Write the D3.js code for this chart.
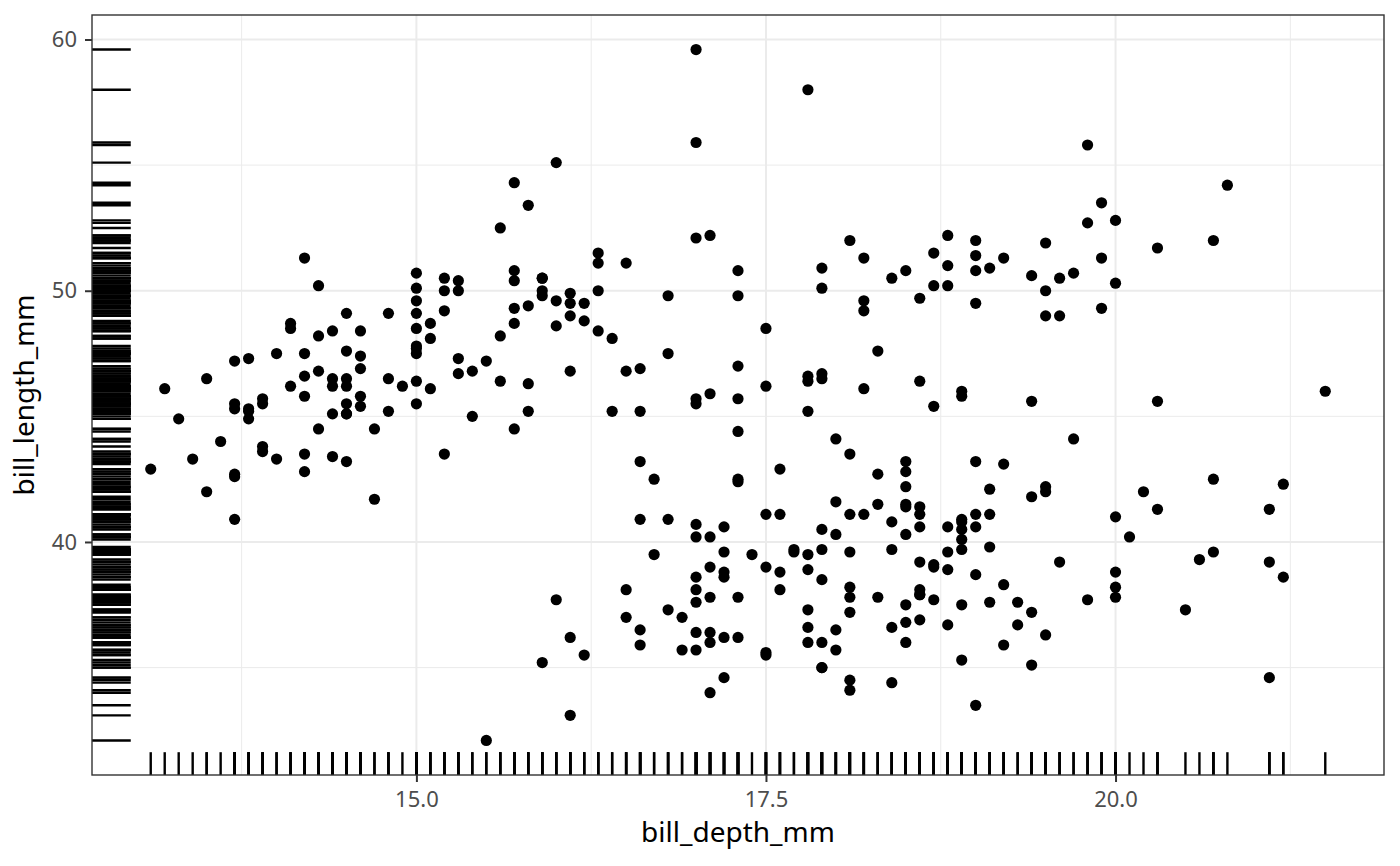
<!DOCTYPE html>
<html><head><meta charset="utf-8">
<script src="https://cdn.jsdelivr.net/npm/d3@7"></script>
<style>body{margin:0;background:#fff}svg{display:block;font-family:"Noto Sans",sans-serif}</style>
</head><body>
<svg id="c" width="1400" height="866"></svg>
<script>
// Palmer penguins: bill_depth_mm (x) and bill_length_mm (y)
const adelieDepth = [18.7,17.4,18.0,19.3,20.6,17.8,19.6,18.1,20.2,17.1,17.3,17.6,21.2,21.1,17.8,19.0,20.7,18.4,21.5,18.3,18.7,19.2,18.1,17.2,18.9,18.6,17.9,18.6,18.9,16.7,18.1,17.8,18.9,17.0,21.1,20.0,18.5,19.3,19.1,18.0,18.4,18.5,19.7,16.9,18.8,19.0,18.9,17.9,21.2,17.7,18.9,17.9,19.5,18.1,18.6,17.5,18.8,16.6,19.1,16.9,21.1,17.0,18.2,17.1,18.0,16.2,19.1,16.6,19.4,19.0,18.4,17.2,18.9,17.5,18.5,16.8,19.4,16.1,19.1,17.2,17.6,18.8,19.4,17.8,20.3,19.5,18.6,19.2,18.8,18.0,18.1,17.1,18.1,17.3,18.9,18.6,18.5,16.1,18.5,17.9,20.0,16.0,20.0,18.6,18.9,17.2,20.0,17.0,19.0,16.5,20.3,17.7,19.5,20.7,18.3,17.0,20.5,17.0,18.6,17.2,19.8,17.0,18.5,15.9,19.0,17.6,18.3,17.1,18.0,17.9,19.2,18.5,18.5,17.6,17.5,17.5,20.1,16.5,17.9,17.1,17.2,15.5,17.0,16.8,18.7,18.6,18.4,17.8,18.1,17.1,18.5];
const adelieLength = [39.1,39.5,40.3,36.7,39.3,38.9,39.2,34.1,42.0,37.8,37.8,41.1,38.6,34.6,36.6,38.7,42.5,34.4,46.0,37.8,37.7,35.9,38.2,38.8,35.3,40.6,40.5,37.9,40.5,39.5,37.2,39.5,40.9,36.4,39.2,38.8,42.2,37.6,39.8,36.5,40.8,36.0,44.1,37.0,39.6,41.1,37.5,36.0,42.3,39.6,40.1,35.0,42.0,34.5,41.4,39.0,40.6,36.5,37.6,35.7,41.3,37.6,41.1,36.4,41.6,35.5,41.1,35.9,41.8,33.5,39.7,39.6,45.8,35.5,42.8,40.9,37.2,36.2,42.1,34.6,42.9,36.7,35.1,37.3,41.3,36.3,36.9,38.3,38.9,35.7,41.1,34.0,39.6,36.2,40.8,38.1,40.3,33.1,43.2,35.0,41.0,37.7,37.8,37.9,39.7,38.6,38.2,38.1,43.2,38.1,45.6,39.7,42.2,39.6,42.7,38.6,37.3,35.7,41.1,36.2,37.7,40.2,41.4,35.2,40.6,38.8,41.5,39.0,44.1,38.5,43.1,36.8,37.5,38.1,41.1,35.6,40.2,37.0,39.7,40.2,40.6,32.1,40.7,37.3,39.0,39.2,36.6,36.0,37.8,36.0,41.5];
const gentooDepth = [13.2,16.3,14.1,15.2,14.5,13.5,14.6,15.3,13.4,15.4,13.7,16.1,13.7,14.6,14.6,15.7,13.5,15.2,14.5,15.1,14.3,14.5,14.5,15.8,13.1,15.1,14.3,15.0,14.3,15.3,15.3,14.2,14.5,17.0,14.8,16.3,13.7,17.3,13.6,15.7,13.7,16.0,13.7,15.0,15.9,13.9,13.9,15.9,13.3,15.8,14.2,14.1,14.4,15.0,14.4,15.4,13.9,15.0,14.5,15.3,13.8,14.9,13.9,15.7,14.2,16.8,14.4,16.2,14.2,15.0,15.0,15.6,15.6,14.8,15.0,16.0,14.2,16.3,13.8,16.4,14.5,15.6,14.6,15.9,13.8,17.3,14.4,14.2,14.0,17.0,15.0,17.1,14.5,16.1,14.7,15.7,15.8,14.6,14.4,16.5,15.0,17.0,15.5,15.0,13.8,16.1,14.7,15.8,14.0,15.1,15.2,15.9,15.2,16.3,14.1,16.0,15.7,16.2,13.7,14.3,15.7,14.8,16.1];
const gentooLength = [46.1,50.0,48.7,50.0,47.6,46.5,45.4,46.7,43.3,46.8,40.9,49.0,45.5,48.4,45.8,49.3,42.0,49.2,46.2,48.7,50.2,45.1,46.5,46.3,42.9,46.1,44.5,47.8,48.2,50.0,47.3,42.8,45.1,59.6,49.1,48.4,42.6,44.4,44.0,48.7,42.7,49.6,45.3,49.6,50.5,43.6,45.5,50.5,44.9,45.2,46.6,48.5,45.1,50.1,46.5,45.0,43.8,45.5,43.2,50.4,45.3,46.2,45.7,54.3,45.8,49.8,46.2,49.5,43.5,50.7,47.7,46.4,48.2,46.5,46.4,48.6,47.5,51.1,45.2,45.2,49.1,52.5,47.4,50.0,44.9,50.8,43.4,51.3,47.5,52.1,47.5,52.2,45.5,49.5,44.5,50.8,49.4,46.9,48.4,51.1,48.5,55.9,47.2,49.1,47.3,46.8,41.7,53.4,43.3,48.1,50.5,49.8,43.5,51.5,46.2,55.1,44.5,48.8,47.2,46.8,50.4,45.2,49.9];
const chinstrapDepth = [17.9,19.5,19.2,18.7,19.8,17.8,18.2,18.2,18.9,19.9,17.8,20.3,17.3,18.1,17.1,19.6,20.0,17.8,18.6,18.2,17.3,17.5,16.6,19.4,17.9,19.0,18.4,19.0,17.8,20.0,16.6,20.8,16.7,18.8,18.6,16.8,18.3,20.7,16.6,19.9,19.5,17.5,19.1,17.0,17.9,18.5,17.9,19.6,18.7,17.3,16.4,19.0,17.3,19.7,17.3,18.8,16.6,19.9,18.8,19.4,19.5,16.5,17.0,19.8,18.1,18.2,19.0,18.7];
const chinstrapLength = [46.5,50.0,51.3,45.4,52.7,45.2,46.1,51.3,46.0,51.3,46.6,51.7,47.0,52.0,45.9,50.5,50.3,58.0,46.4,49.2,42.4,48.5,43.2,50.6,46.7,52.0,50.5,49.5,46.4,52.8,40.9,54.2,42.5,51.0,49.7,47.5,47.6,52.0,46.9,53.5,49.0,46.2,50.9,45.5,50.9,50.8,50.1,49.0,51.5,49.8,48.1,51.4,45.7,50.7,42.5,52.2,45.2,49.3,50.2,45.6,51.9,46.8,45.7,55.8,43.5,49.6,50.8,50.2];
const xTicks = [15.0, 17.5, 20.0];
const yTicks = [40, 50, 60];
const xTickLabels = ["15.0", "17.5", "20.0"];
const yTickLabels = ["40", "50", "60"];
const xMinor = [13.75, 16.25, 18.75, 21.25];
const yMinor = [35, 45, 55];

const depth = adelieDepth.concat(gentooDepth, chinstrapDepth);
const length = adelieLength.concat(gentooLength, chinstrapLength);
const pts = depth.map((d, i) => ({x: d, y: length[i]}));

const L = 92, T = 15, R = 1384, B = 775;
const W = R - L, H = B - T;
const xe = d3.extent(depth), ye = d3.extent(length);
const xp = (xe[1] - xe[0]) * 0.05, yp = (ye[1] - ye[0]) * 0.05;
const x = d3.scaleLinear().domain([xe[0] - xp, xe[1] + xp]).range([L, R]);
const y = d3.scaleLinear().domain([ye[0] - yp, ye[1] + yp]).range([B, T]);

const svg = d3.select("#c");
const g = svg.append("g");
// grid
g.selectAll(".xm").data(xMinor).join("line").attr("x1", d => x(d)).attr("x2", d => x(d)).attr("y1", T).attr("y2", B).attr("stroke", "#ebebeb").attr("stroke-width", 1);
g.selectAll(".ym").data(yMinor).join("line").attr("y1", d => y(d)).attr("y2", d => y(d)).attr("x1", L).attr("x2", R).attr("stroke", "#ebebeb").attr("stroke-width", 1);
g.selectAll(".xM").data(xTicks).join("line").attr("x1", d => x(d)).attr("x2", d => x(d)).attr("y1", T).attr("y2", B).attr("stroke", "#ebebeb").attr("stroke-width", 2);
g.selectAll(".yM").data(yTicks).join("line").attr("y1", d => y(d)).attr("y2", d => y(d)).attr("x1", L).attr("x2", R).attr("stroke", "#ebebeb").attr("stroke-width", 2);

// rugs
const rugX = W * 0.03, rugY = H * 0.03;
g.append("g").selectAll("line").data(length).join("line")
  .attr("x1", L).attr("x2", L + rugX).attr("y1", d => y(d)).attr("y2", d => y(d))
  .attr("stroke", "#000").attr("stroke-width", 2.4);
g.append("g").selectAll("line").data(depth).join("line")
  .attr("y1", B).attr("y2", B - rugY).attr("x1", d => x(d)).attr("x2", d => x(d))
  .attr("stroke", "#000").attr("stroke-width", 2.4);

// points
g.append("g").selectAll("circle").data(pts).join("circle")
  .attr("cx", d => x(d.x)).attr("cy", d => y(d.y)).attr("r", 5.6).attr("fill", "#000");

// border
svg.append("rect").attr("x", L).attr("y", T).attr("width", W).attr("height", H).attr("fill", "none").attr("stroke", "#333").attr("stroke-width", 1.4);

// axes
const xa = svg.append("g").attr("transform", `translate(0,${B})`)
  .call(d3.axisBottom(x).tickValues(xTicks).tickFormat((d, i) => xTickLabels[i]).tickSize(7).tickPadding(9));
const ya = svg.append("g").attr("transform", `translate(${L},0)`)
  .call(d3.axisLeft(y).tickValues(yTicks).tickFormat((d, i) => yTickLabels[i]).tickSize(7).tickPadding(8));
[xa, ya].forEach(a => {
  a.attr("font-size", null).attr("font-family", null);
  a.select(".domain").remove();
  a.selectAll(".tick line").attr("stroke", "#333").attr("stroke-width", 2);
  a.selectAll(".tick text").attr("fill", "#4d4d4d").style("font-size", "22px").style("font-family", "'Noto Sans'");
});

svg.append("text").attr("x", (L + R) / 2).attr("y", 842).attr("text-anchor", "middle")
  .style("font-size", "28px").attr("fill", "#000").text("bill_depth_mm");
svg.append("text").attr("transform", `translate(34,${(T + B) / 2}) rotate(-90)`).attr("text-anchor", "middle")
  .style("font-size", "28px").attr("fill", "#000").text("bill_length_mm");
</script>
</body></html>
